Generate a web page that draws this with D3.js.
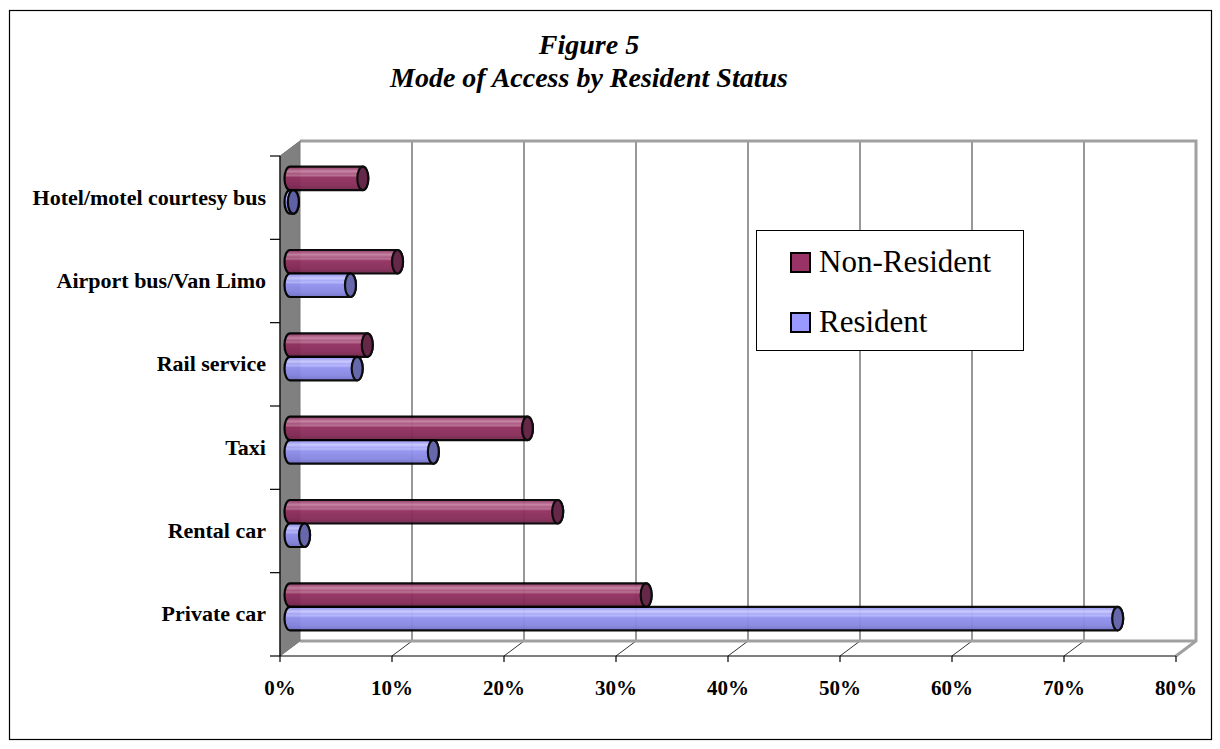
<!DOCTYPE html>
<html>
<head>
<meta charset="utf-8">
<script src="https://cdn.jsdelivr.net/npm/d3@7"></script>
<style>
  html, body { margin: 0; padding: 0; background: #fff; }
  svg { display: block; }
  text { font-family: "Liberation Serif", "Times New Roman", serif; }
</style>
</head>
<body>
<svg id="chart" width="1220" height="749"></svg>
<script>
// Share of travellers by mode of access to the airport (%)
const categories = ["Hotel/motel courtesy bus", "Airport bus/Van Limo", "Rail service", "Taxi", "Rental car", "Private car"];
const nonResident = [6.5, 9.6, 6.9, 21.2, 23.9, 31.8];
const resident = [0.3, 5.4, 6.0, 12.8, 1.3, 73.9];
const seriesNames = ["Non-Resident", "Resident"];
const xTicks = [0, 10, 20, 30, 40, 50, 60, 70, 80];

const svg = d3.select("#chart");

// 3D projection offset of the back wall relative to the front plane
const depth = { dx: 20, dy: -15 };

const x = d3.scaleLinear().domain([0, 80]).range([280, 1176]);
const y = d3.scaleBand().domain(categories).range([156, 656]).paddingInner(0).paddingOuter(0);

const x0 = x(0), x1 = x(80), yTop = y.range()[0], yBot = y.range()[1];

// outer frame
svg.append("rect").attr("x", 9.5).attr("y", 10.5).attr("width", 1202).attr("height", 729)
  .attr("fill", "#fff").attr("stroke", "#000").attr("stroke-width", 1.2);

// title
const title = svg.append("text").attr("text-anchor", "middle")
  .attr("font-weight", "bold").attr("font-style", "italic").attr("font-size", 28);
title.append("tspan").attr("x", 589).attr("y", 54).text("Figure 5");
title.append("tspan").attr("x", 589).attr("y", 87).text("Mode of Access by Resident Status");

// back wall
const bx0 = x0 + depth.dx, bx1 = x1 + depth.dx, byTop = yTop + depth.dy, byBot = yBot + depth.dy;
svg.append("rect").attr("x", bx0).attr("y", byTop).attr("width", bx1 - bx0).attr("height", byBot - byTop)
  .attr("fill", "#fff");

// vertical gridlines on back wall and floor
xTicks.forEach(t => {
  if (t === 0) return;
  svg.append("line").attr("x1", x(t) + depth.dx).attr("x2", x(t) + depth.dx)
    .attr("y1", byTop).attr("y2", byBot).attr("stroke", "#333").attr("stroke-width", 1);
  svg.append("line").attr("x1", x(t) + depth.dx).attr("y1", byBot)
    .attr("x2", x(t)).attr("y2", yBot).attr("stroke", "#333").attr("stroke-width", 1);
});

// back wall border (gray)
svg.append("path")
  .attr("d", `M${bx0},${byTop} L${bx1},${byTop} L${bx1},${byBot} L${x1},${yBot}`)
  .attr("fill", "none").attr("stroke", "#a0a0a0").attr("stroke-width", 3).attr("stroke-linejoin", "miter");
svg.append("line").attr("x1", bx0).attr("x2", bx1).attr("y1", byBot).attr("y2", byBot)
  .attr("stroke", "#a0a0a0").attr("stroke-width", 3);

// left side wall
svg.append("path")
  .attr("d", `M${x0},${yTop} L${bx0},${byTop} L${bx0},${byBot} L${x0},${yBot} Z`)
  .attr("fill", "#808080").attr("stroke", "#777").attr("stroke-width", 1);

// gradients for cylinders
const defs = svg.append("defs");
function cylGrad(id, stops) {
  const g = defs.append("linearGradient").attr("id", id).attr("x1", 0).attr("y1", 0).attr("x2", 0).attr("y2", 1);
  stops.forEach(s => g.append("stop").attr("offset", s[0]).attr("stop-color", s[1]));
}
cylGrad("gNR", [[0, "#8a2c5a"], [0.1, "#a85580"], [0.2, "#c4809f"], [0.3, "#a85580"], [0.38, "#b66a8c"], [0.46, "#922f60"], [0.8, "#842a56"], [1, "#6e2348"]]);
cylGrad("gR", [[0, "#8a8ae8"], [0.1, "#a6a6f6"], [0.2, "#c8c8ff"], [0.3, "#a6a6f8"], [0.38, "#b4b4fc"], [0.46, "#9292f0"], [0.8, "#8585e0"], [1, "#7070c8"]]);

const fills = { "Non-Resident": "url(#gNR)", "Resident": "url(#gR)" };
const caps = { "Non-Resident": "#5e1d3f", "Resident": "#5f5fa8" };
const swatch = { "Non-Resident": "#993366", "Resident": "#9999ff" };

// bars sit at mid depth
const mx = depth.dx / 2, my = depth.dy / 2;
const barH = 23.5, rx = 5.5;

const rows = [];
categories.forEach((c, i) => {
  rows.push({ cat: c, series: "Non-Resident", v: nonResident[i], off: -1 });
  rows.push({ cat: c, series: "Resident", v: resident[i], off: 0 });
});

const bars = svg.append("g").attr("class", "bars");
rows.forEach(d => {
  const cy = y(d.cat) + y.bandwidth() / 2 + my;
  const top = cy + d.off * barH, bot = top + barH, ry = barH / 2;
  const xs = x(0) + mx, xe = x(d.v) + mx;
  const g = bars.append("g").attr("opacity", 0.95);
  g.append("path")
    .attr("d", `M${xs},${top} L${xe},${top} A${rx},${ry} 0 0 1 ${xe},${bot} L${xs},${bot} A${rx},${ry} 0 0 1 ${xs},${top} Z`)
    .attr("fill", fills[d.series]).attr("stroke", "#000").attr("stroke-width", 2.2);
  g.append("ellipse").attr("cx", xe).attr("cy", top + ry).attr("rx", rx).attr("ry", ry)
    .attr("fill", caps[d.series]).attr("stroke", "#000").attr("stroke-width", 2.2);
});

// front axes
svg.append("line").attr("x1", x0).attr("x2", x0).attr("y1", yTop).attr("y2", yBot).attr("stroke", "#000").attr("stroke-width", 1.2);
svg.append("line").attr("x1", x0).attr("x2", x1).attr("y1", yBot).attr("y2", yBot).attr("stroke", "#000").attr("stroke-width", 1.2);

// category ticks and labels
const bounds = categories.map(c => y(c)).concat([yBot]);
bounds.forEach(b => {
  svg.append("line").attr("x1", x0 - 10).attr("x2", x0).attr("y1", b).attr("y2", b).attr("stroke", "#000").attr("stroke-width", 1.2);
});
svg.append("g").selectAll("text").data(categories).join("text")
  .attr("x", 266).attr("y", d => y(d) + y.bandwidth() / 2 + 7)
  .attr("text-anchor", "end").attr("font-weight", "bold").attr("font-size", 22)
  .text(d => d);

// value ticks and labels
xTicks.forEach(t => {
  svg.append("line").attr("x1", x(t)).attr("x2", x(t)).attr("y1", yBot).attr("y2", yBot + 6).attr("stroke", "#000").attr("stroke-width", 1.2);
});
svg.append("g").selectAll("text").data(xTicks).join("text")
  .attr("x", d => x(d)).attr("y", 695)
  .attr("text-anchor", "middle").attr("font-weight", "bold").attr("font-size", 21)
  .text(d => d + "%");

// legend
const lg = svg.append("g");
lg.append("rect").attr("x", 756.5).attr("y", 230.5).attr("width", 267).attr("height", 120)
  .attr("fill", "#fff").attr("stroke", "#000").attr("stroke-width", 1);
seriesNames.forEach((s, i) => {
  const ly = 262 + i * 60;
  lg.append("rect").attr("x", 791).attr("y", ly - 9).attr("width", 19).attr("height", 19)
    .attr("fill", swatch[s]).attr("stroke", "#000").attr("stroke-width", 2);
  lg.append("text").attr("x", 819).attr("y", ly + 10).attr("font-size", 31).text(s);
});
</script>
</body>
</html>
